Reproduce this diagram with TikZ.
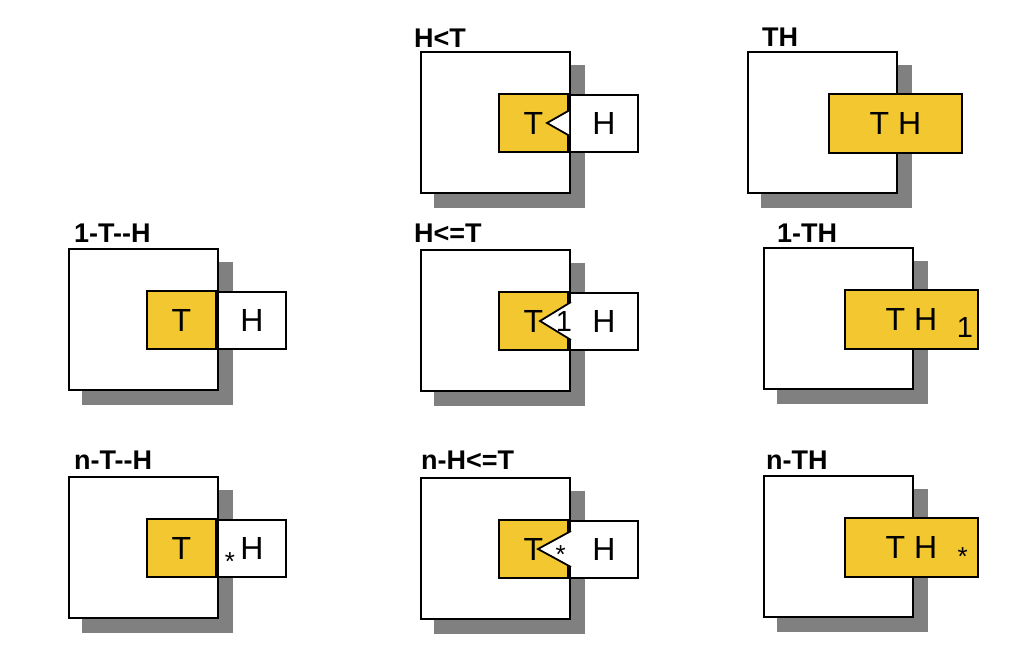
\documentclass[tikz,border=0pt]{standalone}
\usepackage{fontspec}
\setmainfont{Liberation Sans}
\usetikzlibrary{calc}
\definecolor{tyellow}{RGB}{242,199,48}
\definecolor{shadowgray}{RGB}{128,128,128}
\newcommand{\mypanel}[6]{% name, sx, sy, label x, label baseline y, label
  \fill[shadowgray] (#2+13,#3+13) rectangle (#2+164,#3+156);
  \node[bigsq] (#1sq) at (#2+74.5,#3+70.5) {};
  \node[lbl] (#1lbl) at (#4,#5) {#6};
}
\begin{document}
\begin{tikzpicture}[x=1pt,y=-1pt,
  bigsq/.style={draw, line width=2pt, fill=white, minimum width=149pt, minimum height=141pt, inner sep=0pt},
  tbox/.style={draw, line width=2pt, fill=tyellow, minimum width=69pt, minimum height=58pt, inner sep=0pt, font=\fontsize{32}{36}\selectfont},
  hbox/.style={draw, line width=2pt, fill=white, minimum width=68pt, minimum height=57pt, inner sep=0pt, font=\fontsize{32}{36}\selectfont},
  thbox/.style={tbox, minimum width=133pt, minimum height=59pt},
  lbl/.style={anchor=base west, inner sep=0pt, font=\fontsize{27}{30}\selectfont\bfseries},
  smallsym/.style={inner sep=0pt, font=\fontsize{26}{30}\selectfont},
  onesym/.style={inner sep=0pt, font=\fontsize{29}{32}\selectfont},
  notchline/.style={line width=1.8pt, line join=miter}
]
\useasboundingbox (0,0) rectangle (1033,653);

% ---- H<T
\mypanel{a}{421}{52}{414}{47}{H<T}
\node[tbox] (aT) at (533.5,123) {T};
\node[hbox] (aH) at (604,123.5) {H};
\fill[white] ($(aT.east)+(0,-12.5)$) -- ($(aT.east)+(-22,0)$) -- ($(aT.east)+(0,12.5)$) -- cycle;
\draw[notchline] ($(aT.east)+(0,-12.5)$) -- ($(aT.east)+(-22,0)$) -- ($(aT.east)+(0,12.5)$);

% ---- TH
\mypanel{b}{748}{52}{762}{46}{TH}
\node[thbox] (bTH) at (895.5,123.5) {T H};

% ---- 1-T--H
\mypanel{c}{69}{249}{74}{242}{1-T-{}-H}
\node[tbox] (cT) at (181.5,320) {T};
\node[hbox] (cH) at (252,320.5) {H};

% ---- H<=T
\mypanel{d}{421}{250}{414}{242}{H<=T}
\node[tbox] (dT) at (533.5,321) {T};
\node[hbox] (dH) at (604,321.5) {H};
\fill[white] ($(dT.east)+(2,-19)$) -- ($(dT.east)+(-29,0)$) -- ($(dT.east)+(2,19)$) -- cycle;
\draw[notchline] ($(dT.east)+(2,-19)$) -- ($(dT.east)+(-29,0)$) -- ($(dT.east)+(2,19)$);
\node[onesym] (d1) at (564,322) {1};

% ---- 1-TH
\mypanel{e}{764}{248}{777}{242}{1-TH}
\node[thbox] (eTH) at (911.5,319.5) {T H};
\node[onesym] (e1) at (965,328) {1};

% ---- n-T--H
\mypanel{f}{69}{477}{74}{469}{n-T-{}-H}
\node[tbox] (fT) at (181.5,548) {T};
\node[hbox] (fH) at (252,548.5) {H};
\node[smallsym, anchor=base] (fs) at (230,570) {*};

% ---- n-H<=T
\mypanel{g}{421}{478}{421}{469}{n-H<=T}
\node[tbox] (gT) at (533.5,549) {T};
\node[hbox] (gH) at (604,549.5) {H};
\fill[white] ($(gT.east)+(2,-18)$) -- ($(gT.east)+(-31,0)$) -- ($(gT.east)+(2,18)$) -- cycle;
\draw[notchline] ($(gT.east)+(2,-18)$) -- ($(gT.east)+(-31,0)$) -- ($(gT.east)+(2,18)$);
\node[smallsym, anchor=base] (gs) at (560.7,563) {*};

% ---- n-TH
\mypanel{h}{764}{476}{766}{469}{n-TH}
\node[thbox] (hTH) at (911.5,547.5) {T H};
\node[smallsym, anchor=base] (hs) at (962.7,565) {*};
\end{tikzpicture}
\end{document}
